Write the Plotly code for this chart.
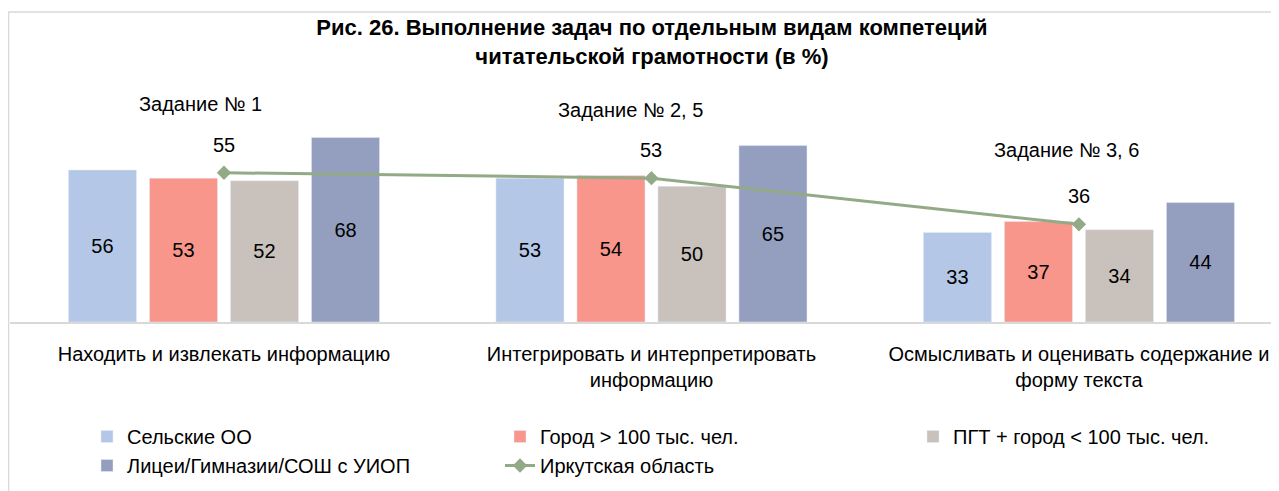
import plotly.graph_objects as go

categories = [
    "Находить и извлекать информацию",
    "Интегрировать и интерпретировать<br>информацию",
    "Осмысливать и оценивать содержание и<br>форму текста",
]
series_names = [
    "Сельские ОО",
    "Город > 100 тыс. чел.",
    "ПГТ + город < 100 тыс. чел.",
    "Лицеи/Гимназии/СОШ с УИОП",
]
rural = [56, 53, 33]
city_big = [53, 54, 37]
town_small = [52, 50, 34]
lyceums = [68, 65, 44]
region_name = "Иркутская область"
region = [55, 53, 36]
task_labels = ["Задание № 1", "Задание № 2, 5", "Задание № 3, 6"]

colors = ["#B4C7E7", "#F8968B", "#C9C1BB", "#949FBF"]
line_color = "#93AA86"
FONT = "Liberation Sans, Arial, sans-serif"
FS = 20

# page body has an 8px margin, so the figure is sized/positioned accordingly
W, HGT = 1271, 483

fig = go.Figure()
for name, vals, col in zip(series_names, [rural, city_big, town_small, lyceums], colors):
    fig.add_trace(go.Bar(
        x=categories, y=vals, name=name, marker_color=col,
        text=[str(v) for v in vals], textposition="inside",
        insidetextanchor="middle",
        textfont=dict(color="black", size=FS, family=FONT),
        cliponaxis=False,
    ))

fig.add_trace(go.Scatter(
    x=categories, y=region, name=region_name, mode="lines+markers",
    line=dict(color=line_color, width=3),
    marker=dict(symbol="diamond", size=11, color=line_color),
    cliponaxis=False,
))

annotations = []
for c, v in zip(categories, region):
    annotations.append(dict(x=c, y=v, xref="x", yref="y", text=str(v),
                            showarrow=False, yshift=28,
                            font=dict(size=FS, family=FONT, color="black")))
task_offsets = [-0.054, -0.048, -0.03]
task_y = [80.3, 78.0, 63.4]
for i, (t, dx, ty) in enumerate(zip(task_labels, task_offsets, task_y)):
    annotations.append(dict(x=i + dx, y=ty, xref="x", yref="y", text=t,
                            showarrow=False,
                            font=dict(size=FS, family=FONT, color="black")))

TOP = 72
BOT = 314
H = BOT - TOP
PW = W - 2
shapes = [
    dict(type="line", xref="paper", yref="paper", x0=-2 / PW, x1=1.01,
         y0=1 + (TOP - 4) / H, y1=1 + (TOP - 4) / H,
         line=dict(color="#D9D9D9", width=1.5)),
    dict(type="line", xref="paper", yref="paper", x0=-1.5 / PW, x1=-1.5 / PW,
         y0=1 + (TOP - 4) / H, y1=-(HGT - BOT) / H,
         line=dict(color="#D9D9D9", width=1.5)),
]

fig.update_layout(
    width=W, height=HGT,
    margin=dict(l=2, r=0, t=TOP, b=HGT - BOT, autoexpand=False),
    paper_bgcolor="white", plot_bgcolor="white",
    font=dict(family=FONT, size=FS, color="black"),
    title=dict(
        text="<b>Рис. 26. Выполнение задач по отдельным видам компетеций<br>читательской грамотности (в %)</b>",
        x=644 / W, xanchor="center", xref="container",
        y=1 - 27 / HGT, yanchor="middle", yref="container",
        font=dict(size=22, family=FONT, color="black"),
    ),
    barmode="group", bargap=0.242, bargroupgap=0.16,
    xaxis=dict(range=[-0.5006, 2.468], showline=True, linecolor="#D9D9D9",
               linewidth=2, ticks="outside", ticklen=13, tickcolor="rgba(0,0,0,0)",
               tickfont=dict(size=FS, family=FONT), showgrid=False, fixedrange=True),
    yaxis=dict(range=[0, H / 2.714], visible=False, showgrid=False, fixedrange=True),
    legend=dict(orientation="h", xref="container", yref="container",
                x=79 / W, y=1 - 409 / HGT, xanchor="left", yanchor="top",
                entrywidth=368, entrywidthmode="pixels",
                font=dict(size=FS, family=FONT), traceorder="normal"),
    annotations=annotations, shapes=shapes,
    showlegend=True,
)

fig.write_html("out.html")
